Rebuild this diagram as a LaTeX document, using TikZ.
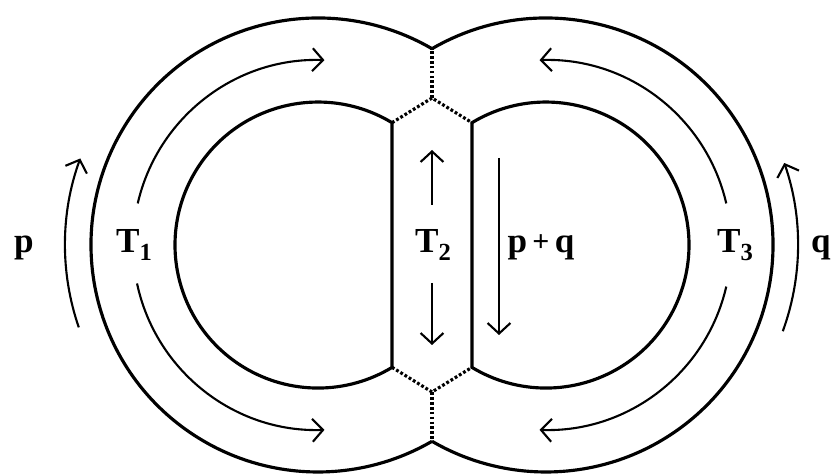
\documentclass[tikz,border=0pt]{standalone}
\usepackage{fontspec}
\setmainfont{Liberation Serif}
\usetikzlibrary{arrows.meta}
\newcommand{\subidx}[1]{\raisebox{-0.22em}{\fontsize{14}{16}\selectfont #1}}
\tikzset{
  rim/.style={line width=1.8pt},
  seam/.style={line width=1.8pt,dash pattern=on 1.6pt off 1.2pt},
  flow/.style={line width=1.2pt,-{Straight Barb[length=6pt,width=13pt]}},
  tag/.style={font=\fontsize{20}{24}\selectfont\bfseries,inner sep=0pt,anchor=base}
}
\begin{document}
\begin{tikzpicture}[x=0.02cm,y=0.02cm]
  \useasboundingbox (0,0) rectangle (831,473);
  % centres of the two rings
  \coordinate (cl) at (318,228);
  \coordinate (cr) at (546,228);
  % joints of the seams
  \coordinate (ot) at (432,424.3);
  \coordinate (ob) at (432,31.7);
  \coordinate (ht) at (432,375);
  \coordinate (hb) at (432,81);
  \coordinate (lt) at (392,350.3);
  \coordinate (lb) at (392,105.7);
  \coordinate (rt) at (472,350.3);
  \coordinate (rb) at (472,105.7);
  % outer rims
  \draw[rim] (cl) ++(59.85:227) arc[start angle=59.85,end angle=300.15,radius=227];
  \draw[rim] (cr) ++(120.15:227) arc[start angle=120.15,end angle=-120.15,radius=227];
  % holes
  \draw[rim] (lt) arc[start angle=58.84,end angle=301.16,radius=143] -- cycle;
  \draw[rim] (rt) arc[start angle=121.16,end angle=-121.16,radius=143] -- cycle;
  % seams
  \draw[seam] (lt) -- (ht) -- (rt);
  \draw[seam] (ht) -- (ot);
  \draw[seam] (lb) -- (hb) -- (rb);
  \draw[seam] (hb) -- (ob);
  % flows
  \draw[flow] (cl) ++(199:253) arc[start angle=199,end angle=160,radius=253];
  \draw[flow] (cr) ++(-20:252) arc[start angle=-20,end angle=19,radius=252];
  \draw[flow] (cl) ++(167:185) arc[start angle=167,end angle=88,radius=185];
  \draw[flow] (cl) ++(192:185) arc[start angle=192,end angle=272,radius=185];
  \draw[flow] (cr) ++(13:185) arc[start angle=13,end angle=92,radius=185];
  \draw[flow] (cr) ++(-13:185) arc[start angle=-13,end angle=-92,radius=185];
  \coordinate (u0) at (432,268);
  \coordinate (u1) at (432,323);
  \coordinate (d0) at (432,190);
  \coordinate (d1) at (432,128);
  \coordinate (s0) at (499,315);
  \coordinate (s1) at (499,138);
  \draw[flow] (u0) -- (u1);
  \draw[flow] (d0) -- (d1);
  \draw[flow] (s0) -- (s1);
  % labels
  \node[tag] (p) at (24,220) {p};
  \node[tag] (t1) at (134,220) {T\subidx{1}};
  \node[tag] (t2) at (433,220) {T\subidx{2}};
  \node[tag] (pq) at (541,220) {p\kern3pt\raisebox{0.8pt}{\fontsize{17}{18}\selectfont+}\kern3pt q};
  \node[tag] (t3) at (735,220) {T\subidx{3}};
  \node[tag] (q) at (821,220) {q};
\end{tikzpicture}
\end{document}
